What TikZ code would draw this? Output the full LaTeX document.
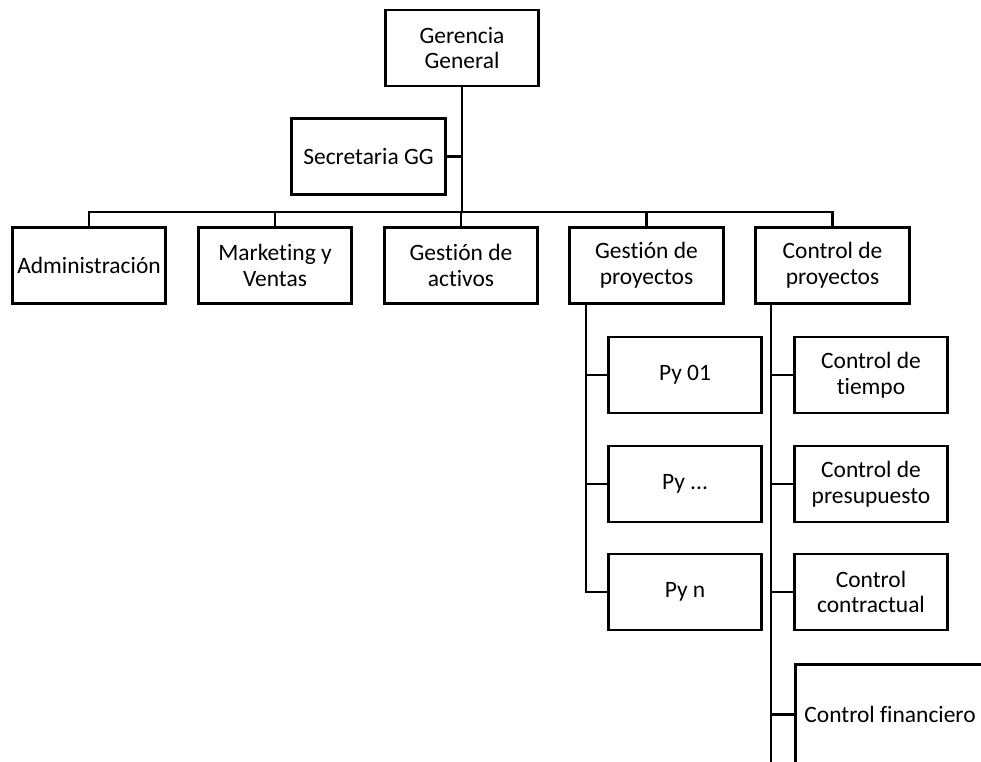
\documentclass[tikz,border=0pt]{standalone}
\usepackage{fontspec}
\setmainfont{Carlito}[RawFeature={-liga;-clig;-calt;-dlig}]
\usepackage{tikz}
\usetikzlibrary{calc,positioning}
\newcommand{\tI}{t\kern0pt i}
\tikzset{
  orgbox/.style ={rectangle, draw=black, fill=white, line width=2.1pt,
                  minimum width=115pt, minimum height=57pt, inner xsep=1pt,
                  align=center, font=\fontsize{17.6}{19.2}\selectfont},
  orgline/.style={line width=2.1pt, black, line cap=rect},
}
\begin{document}
\begin{tikzpicture}[x=0.75pt, y=-0.75pt,
    sub/.style={orgbox},
    link/.style={orgline}]
\useasboundingbox (0,0) rectangle (981,762);
\clip (0,0) rectangle (981,762);
\fill[white] (0,0) rectangle (981,762);
\coordinate (bus) at (0,212);
\coordinate (gp) at (586,0);
\coordinate (cpend) at (771,775);
\node[orgbox] (gg)  at (462,48)    {Gerencia\\General};
\node[orgbox] (sec) at (368.5,156.5) {Secretaria GG};
\node[orgbox] (adm) at (89,265.5)  {Administración};
\node[orgbox] (mkt) at (275,265.5) {Marke\tI ng y\\Ventas};
\node[orgbox] (act) at (461,265.5) {Ges\tI ón de\\activos};
\node[orgbox] (gpy) at (646.5,265.5) {Ges\tI ón de\\proyectos};
\node[orgbox] (cpy) at (832.5,265.5) {Control de\\proyectos};
\node[sub] (py1) at (685,375) {Py 01};
\node[sub] (py2) at (685,484) {Py ...};
\node[sub] (py3) at (685,592) {Py n};
\node[sub] (ct1) at (871,375) {Control de\\tiempo};
\node[sub] (ct2) at (871,484) {Control de\\presupuesto};
\node[sub] (ct3) at (871,592) {Control\\contractual};
\node[sub, anchor=north west, minimum width=142pt, minimum height=75pt]
  (ct4) at (794,663) {Control financiero};
\draw[link] (gg.south) -- (gg.south |- bus);
\draw[link] (sec.east) -- (sec.east -| gg.south);
\draw[link] (adm.north) -- (adm.north |- bus) -- (cpy.north |- bus) -- (cpy.north);
\foreach \n in {mkt,act,gpy}
  \draw[link] (\n.north) -- (\n.north |- bus);
\draw[link] (gpy.south -| gp) |- (py3.west);
\foreach \n in {py1,py2}
  \draw[link] (\n.west) -- (\n.west -| gp);
\draw[link] (cpy.south -| cpend) -- (cpend);
\foreach \n in {ct1,ct2,ct3,ct4}
  \draw[link] (\n.west) -- (\n.west -| cpend);
\end{tikzpicture}
\end{document}
